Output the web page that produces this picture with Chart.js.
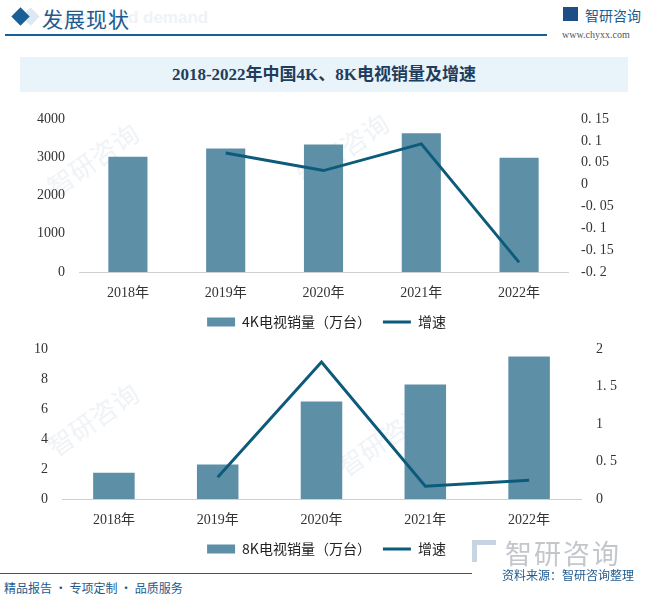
<!DOCTYPE html>
<html>
<head>
<meta charset="utf-8">
<script src="https://cdn.jsdelivr.net/npm/chart.js@4.4.0/dist/chart.umd.min.js"></script>
<style>
  body { margin: 0; background: #fff; }
  #page { position: relative; width: 653px; height: 600px; overflow: hidden; background: #fff;
          font-family: "Noto Sans CJK SC", "Noto Sans", sans-serif; }
  .abs { position: absolute; }
  #diamond { left: 14px; top: 10px; width: 13px; height: 13px; background: #1a5e96; transform: rotate(45deg); }
  #diamond2 { left: 24px; top: 10px; width: 13px; height: 13px; background: #dde9f2; transform: rotate(45deg); }
  #head { left: 42px; top: 3px; font-size: 21px; color: #1d5a8e; letter-spacing: 1px; }
  #headbg { left: 58px; top: 8px; font-size: 17px; font-weight: bold; color: #eef3f7; font-family: "Liberation Sans", sans-serif; }
  #headline { left: 5px; top: 34px; width: 542px; height: 2px; background: #1a5e96; }
  #logo { left: 585px; top: 5px; font-size: 14px; color: #1d5a8e; }
  #logoicon { left: 563px; top: 7px; width: 15px; height: 14px; border: 0; }
  #www { left: 562px; top: 29px; font-size: 10px; color: #555; font-family: "Liberation Serif", serif; }
  #titlebox { left: 20px; top: 57px; width: 608px; height: 35px; background: #e8f3fa; }
  #title { left: 20px; top: 57px; width: 608px; height: 35px; line-height: 35px; text-align: center;
           font-size: 17px; font-weight: bold; color: #1f3d5c; font-family: "Liberation Serif", "Noto Sans CJK SC", serif; }
  #foot { left: 0; top: 573px; width: 472px; height: 1px; background: #1a5e96; }
  #slogan { left: 4px; top: 579px; font-size: 12px; color: #1d5a8e; }
  #src { left: 502px; top: 566px; font-size: 12px; color: #1d5a8e; }
  #biglogo { left: 505px; top: 533px; font-size: 27px; color: #c3c7cb; letter-spacing: 2px; }
  #biglogoicon { left: 472px; top: 540px; width: 24px; height: 22px; border-left: 5px solid #c7d4e2; border-top: 5px solid #c7d4e2; box-sizing: border-box; }
  .wm { font-size: 26px; color: rgba(210,222,232,0.35); transform: rotate(-35deg); }
  #c1wrap { left: 0; top: 104px; width: 653px; height: 235px; }
  #c2wrap { left: 0; top: 334px; width: 653px; height: 232px; }
</style>
</head>
<body>
<div id="page">
  <div class="abs wm" style="left:40px;top:140px;">智研咨询</div>
  <div class="abs wm" style="left:290px;top:130px;">智研咨询</div>
  <div class="abs wm" style="left:40px;top:400px;">智研咨询</div>
  <div class="abs wm" style="left:330px;top:420px;">智研咨询</div>
  <div class="abs" id="headbg">upply and demand</div>
  <div class="abs" id="diamond2"></div>
  <div class="abs" id="diamond"></div>
  <div class="abs" id="head">发展现状</div>
  <div class="abs" id="headline"></div>
  <div class="abs" id="logoicon" style="background:#1d4f86;"></div>
  <div class="abs" id="logo">智研咨询</div>
  <div class="abs" id="www">www.chyxx.com</div>
  <div class="abs" id="titlebox"></div>
  <div class="abs" id="title">2018-2022年中国4K、8K电视销量及增速</div>
  <div class="abs" id="c1wrap"><canvas id="c1"></canvas></div>
  <div class="abs" id="c2wrap"><canvas id="c2"></canvas></div>
  <div class="abs" id="biglogoicon"></div>
  <div class="abs" id="biglogo">智研咨询</div>
  <div class="abs" id="foot"></div>
  <div class="abs" id="slogan">精品报告 · 专项定制 · 品质服务</div>
  <div class="abs" id="src">资料来源：智研咨询整理</div>
</div>
<script>
// 数据
const years = ['2018年', '2019年', '2020年', '2021年', '2022年'];
const sales4k = [3013, 3227, 3333, 3627, 2987];
const growth4k = [null, 0.072, 0.032, 0.093, -0.178];
const sales8k = [1.76, 2.30, 6.52, 7.66, 9.53];
const growth8k = [null, 0.29, 1.83, 0.17, 0.25];

const barColor = '#5d8fa7';
const lineColor = '#0d5b7b';
const tickFont = { family: '"Liberation Serif", "Noto Sans CJK SC", serif', size: 14 };

function fmt(v) {
    // 模仿原图的数字样式
    return String(Math.round(v * 100) / 100).replace('.', '. ');
}

function makeChart(id, opts) {
    return new Chart(document.getElementById(id), {
        data: {
            labels: years,
            datasets: [
                { type: 'line', label: '增速', data: opts.growth, yAxisID: 'y1', borderColor: lineColor,
                  backgroundColor: lineColor, borderWidth: 3, pointRadius: 0, tension: 0,
                  pointStyle: 'line', order: 0 },
                { type: 'bar', label: opts.barLabel, data: opts.sales, yAxisID: 'y', backgroundColor: barColor,
                  barPercentage: 0.8, categoryPercentage: 0.5, pointStyle: 'rect', order: 1 }
            ]
        },
        options: {
            responsive: true, maintainAspectRatio: false, animation: false,
            layout: { padding: { top: opts.padTop, bottom: 0, left: 0, right: 0 } },
            plugins: {
                tooltip: { enabled: false },
                legend: {
                    position: 'bottom', reverse: true,
                    labels: { usePointStyle: true, pointStyleWidth: 28, boxHeight: 9, padding: 12,
                              color: '#222', font: { family: '"Noto Sans CJK SC", sans-serif', size: 14 } }
                }
            },
            scales: {
                x: {
                    grid: { display: false },
                    border: { display: true, color: '#d0d0d0' },
                    ticks: { color: '#333', font: tickFont, padding: 5 },
                    afterFit: s => { s.height = opts.xh; }
                },
                y: {
                    position: 'left', min: opts.yMin, max: opts.yMax,
                    ticks: { stepSize: opts.yStep, color: '#333', font: tickFont, padding: 6,
                             callback: v => String(v) },
                    grid: { display: false }, border: { display: false },
                    afterFit: s => { s.width = opts.leftW; }
                },
                y1: {
                    position: 'right', min: opts.rMin, max: opts.rMax,
                    ticks: { stepSize: opts.rStep, color: '#333', font: tickFont, padding: opts.rPad,
                             callback: v => fmt(v) },
                    grid: { display: false }, border: { display: false },
                    afterFit: s => { s.width = opts.rightW; }
                }
            }
        }
    });
}

makeChart('c1', { barLabel: '4K电视销量（万台）', sales: sales4k, growth: growth4k,
    yMin: 0, yMax: 4000, yStep: 1000, rMin: -0.2, rMax: 0.15, rStep: 0.05,
    padTop: 15, xh: 31, leftW: 79, rightW: 85, rPad: 5 });
makeChart('c2', { barLabel: '8K电视销量（万台）', sales: sales8k, growth: growth8k,
    yMin: 0, yMax: 10, yStep: 2, rMin: 0, rMax: 2, rStep: 0.5,
    padTop: 8, xh: 31, leftW: 62, rightW: 72, rPad: 7 });
</script>
</body>
</html>
